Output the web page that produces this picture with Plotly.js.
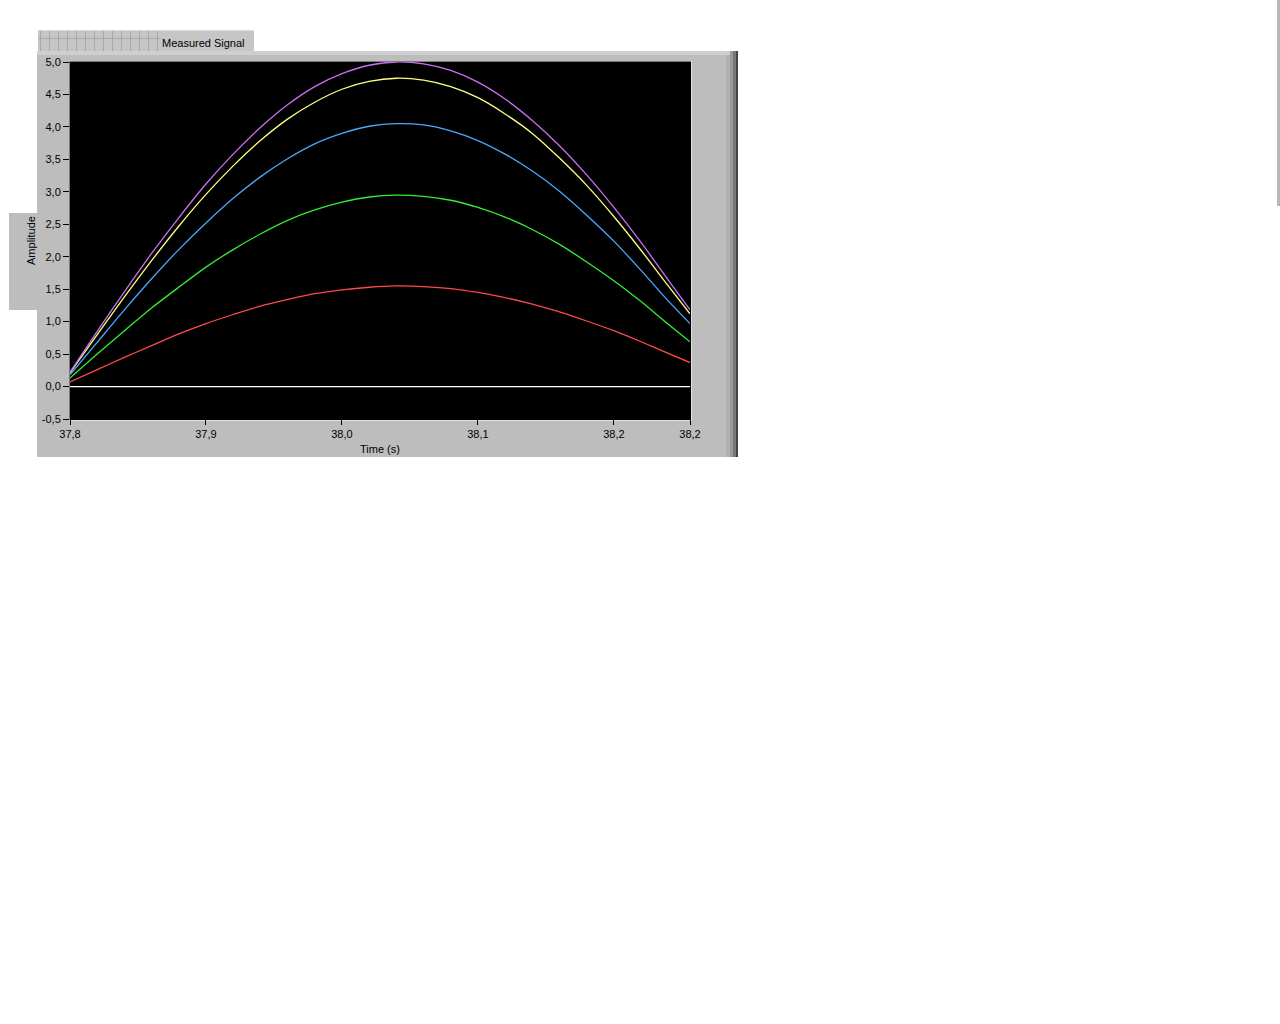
<!DOCTYPE html>
<html>
<head>
<meta charset="utf-8">
<script src="https://cdn.plot.ly/plotly-3.0.1.min.js"></script>
<style>html,body{margin:0;padding:0;background:#fff;}#chart{width:1280px;height:1024px;}</style>
</head>
<body>
<div id="chart"></div>
<script>
// ---- Data ----
var timeS = [37.80, 37.82, 37.84, 37.86, 37.88, 37.90, 37.92, 37.94, 37.96, 37.98, 38.00, 38.02,
             38.04, 38.06, 38.08, 38.10, 38.12, 38.14, 38.16, 38.18, 38.20, 38.22, 38.24, 38.256];
var magentaSignal = [0.22, 0.85, 1.46, 2.05, 2.60, 3.12, 3.58, 3.99, 4.34, 4.62, 4.82, 4.95,
                     5.00, 4.97, 4.87, 4.69, 4.43, 4.10, 3.71, 3.26, 2.76, 2.22, 1.64, 1.18];
var yellowSignal = [0.21, 0.80, 1.38, 1.94, 2.47, 2.96, 3.40, 3.79, 4.12, 4.38, 4.58, 4.70,
                    4.75, 4.72, 4.62, 4.45, 4.20, 3.90, 3.52, 3.10, 2.62, 2.10, 1.55, 1.12];
var blueSignal = [0.18, 0.68, 1.18, 1.66, 2.11, 2.52, 2.90, 3.23, 3.51, 3.74, 3.90, 4.01,
                  4.05, 4.03, 3.94, 3.79, 3.58, 3.32, 3.01, 2.64, 2.24, 1.79, 1.32, 0.97];
var greenSignal = [0.13, 0.50, 0.86, 1.21, 1.53, 1.84, 2.11, 2.35, 2.56, 2.72, 2.84, 2.92,
                   2.95, 2.93, 2.87, 2.76, 2.61, 2.42, 2.19, 1.92, 1.63, 1.31, 0.96, 0.69];
var redSignal = [0.07, 0.26, 0.45, 0.63, 0.81, 0.97, 1.11, 1.24, 1.34, 1.43, 1.49, 1.53,
                 1.55, 1.54, 1.51, 1.45, 1.37, 1.27, 1.15, 1.01, 0.86, 0.69, 0.51, 0.37];
var whiteSignal = [0, 0, 0, 0, 0, 0, 0, 0, 0, 0, 0, 0, 0, 0, 0, 0, 0, 0, 0, 0, 0, 0, 0, 0];

var xTickVals = [37.8, 37.9, 38.0, 38.1, 38.2, 38.256];
var xTickText = ['37,8', '37,9', '38,0', '38,1', '38,2', '38,2'];
var yTickVals = [-0.5, 0, 0.5, 1, 1.5, 2, 2.5, 3, 3.5, 4, 4.5, 5];
var yTickText = ['-0,5', '0,0', '0,5', '1,0', '1,5', '2,0', '2,5', '3,0', '3,5', '4,0', '4,5', '5,0'];

// ---- Layout geometry (pixels) ----
var W = 1280, H = 1024;
var PL = 70, PR = 690, PT = 62, PB = 419;
function px(x) { return (x - PL) / (PR - PL); }
function py(y) { return (PB - y) / (PB - PT); }
function rect(x0, y0, x1, y1, color) {
  return {type: 'rect', xref: 'paper', yref: 'paper', layer: 'below',
          x0: px(x0), x1: px(x1), y0: py(y1), y1: py(y0),
          fillcolor: color, line: {width: 0}};
}

var shapes = [];
shapes.push(rect(1277, 0, 1280, 206, '#b8b8b8'));
// tab "Measured Signal"
shapes.push(rect(38, 30, 254, 52, '#c6c6c6'));
for (var gx = 40; gx < 160; gx += 9) shapes.push(rect(gx, 31, gx + 1, 51, '#a9a9a9'));
shapes.push(rect(38, 38, 160, 39, '#ababab'));
shapes.push(rect(38, 30, 254, 31, '#dadada'));
// Amplitude side tab
shapes.push(rect(9, 213, 40, 310, '#bdbdbd'));
// main panel
shapes.push(rect(37, 51, 738, 457, '#bdbdbd'));
shapes.push(rect(37, 51, 734, 55, '#cfcfcf'));
shapes.push(rect(726, 55, 730, 457, '#b0b0b0'));
shapes.push(rect(730, 51, 733, 457, '#9a9a9a'));
shapes.push(rect(733, 51, 736, 457, '#787878'));
shapes.push(rect(736, 51, 738, 457, '#454545'));
// plot area with sunken border
shapes.push(rect(69, 61, 692, 421, '#e2e2e2'));
shapes.push(rect(69, 61, 691, 420, '#7a7a7a'));
shapes.push(rect(70, 62, 691, 420, '#000000'));

function line(y, color, name) {
  return {x: timeS, y: y, type: 'scatter', mode: 'lines', name: name,
          line: {color: color, width: 1.3, shape: 'spline', smoothing: 0.8},
          hoverinfo: 'x+y'};
}

var traces = [
  line(whiteSignal, '#ffffff', 'Plot 5'),
  line(redSignal, '#ff4a4a', 'Plot 4'),
  line(greenSignal, '#33ee33', 'Plot 3'),
  line(blueSignal, '#4aa8ff', 'Plot 2'),
  line(yellowSignal, '#ffff80', 'Plot 1'),
  line(magentaSignal, '#c870f0', 'Plot 0')
];

var fontFam = 'Liberation Sans, Arial, sans-serif';

var layout = {
  width: W, height: H,
  margin: {l: PL, r: W - PR, t: PT, b: H - PB, pad: 0},
  paper_bgcolor: '#ffffff',
  plot_bgcolor: '#000000',
  showlegend: false,
  font: {family: fontFam, size: 11, color: '#000000'},
  xaxis: {
    range: [37.8, 38.256], tickmode: 'array', tickvals: xTickVals, ticktext: xTickText,
    ticks: 'outside', ticklen: 5, tickwidth: 1, tickcolor: '#000000',
    showgrid: false, zeroline: false, showline: false,
    tickfont: {family: fontFam, size: 11, color: '#000000'},
    title: {text: 'Time (s)', font: {family: fontFam, size: 11, color: '#000000'}, standoff: 6}
  },
  yaxis: {
    range: [-0.5, 5.0], tickmode: 'array', tickvals: yTickVals, ticktext: yTickText,
    ticks: 'outside', ticklen: 6, tickwidth: 1, tickcolor: '#000000',
    showgrid: false, zeroline: false, showline: false,
    tickfont: {family: fontFam, size: 11, color: '#000000'},
    title: {text: 'Amplitude', font: {family: fontFam, size: 11, color: '#000000'}, standoff: 3}
  },
  shapes: shapes,
  annotations: [{
    text: 'Measured Signal', xref: 'paper', yref: 'paper',
    x: px(203), y: py(43), showarrow: false, xanchor: 'center', yanchor: 'middle',
    font: {family: fontFam, size: 11, color: '#000000'}
  }]
};

Plotly.newPlot('chart', traces, layout, {displayModeBar: false, staticPlot: true});
</script>
</body>
</html>
